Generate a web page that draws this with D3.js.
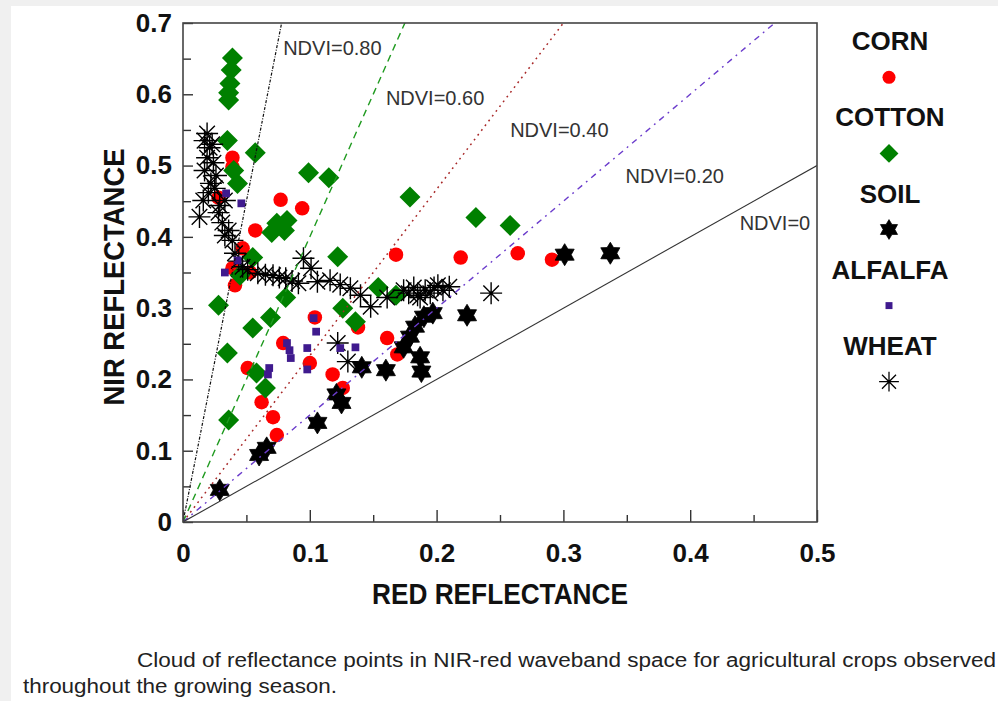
<!DOCTYPE html>
<html>
<head>
<meta charset="utf-8">
<script src="https://cdn.jsdelivr.net/npm/d3@7"></script>
<style>
  html, body { margin: 0; padding: 0; background: #fff; }
  svg { display: block; }
</style>
</head>
<body>
<svg id="chart" width="998" height="701"></svg>
<script>
// red / nir reflectance pairs
var cornPts = [[0.039,0.511],[0.039,0.498],[0.028,0.455],[0.077,0.452],[0.094,0.440],[0.057,0.409],
  [0.039,0.356],[0.041,0.332],[0.053,0.350],[0.047,0.384],[0.168,0.375],[0.219,0.371],[0.264,0.377],
  [0.291,0.368],[0.104,0.287],[0.138,0.273],[0.161,0.258],[0.169,0.235],[0.079,0.251],[0.051,0.216],
  [0.100,0.223],[0.118,0.207],[0.126,0.188],[0.062,0.168],[0.071,0.147],[0.074,0.122]];

var cottonPts = [[0.039,0.651],[0.038,0.634],[0.037,0.615],[0.036,0.602],[0.036,0.592],[0.035,0.535],
  [0.057,0.518],[0.099,0.490],[0.115,0.483],[0.179,0.456],[0.231,0.427],[0.258,0.416],[0.043,0.475],
  [0.040,0.493],[0.074,0.419],[0.070,0.406],[0.082,0.423],[0.080,0.409],[0.122,0.372],[0.055,0.371],
  [0.045,0.346],[0.081,0.315],[0.028,0.304],[0.055,0.272],[0.069,0.287],[0.035,0.237],[0.058,0.209],
  [0.065,0.188],[0.036,0.143],[0.154,0.329],[0.168,0.318],[0.126,0.300],[0.136,0.281]];

var soilPts = [[0.029,0.045],[0.060,0.094],[0.066,0.104],[0.106,0.139],[0.121,0.179],[0.125,0.167],
  [0.141,0.217],[0.160,0.213],[0.174,0.245],[0.179,0.260],[0.183,0.274],[0.190,0.288],[0.197,0.293],
  [0.187,0.231],[0.188,0.211],[0.224,0.290],[0.301,0.375],[0.337,0.377]];

var alfalfaPts = [[0.034,0.461],[0.046,0.447],[0.033,0.350],[0.043,0.367],[0.103,0.286],[0.105,0.267],
  [0.082,0.251],[0.084,0.241],[0.085,0.230],[0.098,0.244],[0.098,0.214],[0.068,0.216],[0.067,0.207],
  [0.124,0.244],[0.136,0.245]];

var wheatPts = [[0.019,0.545],[0.017,0.535],[0.021,0.525],[0.019,0.511],[0.024,0.504],[0.017,0.493],
  [0.026,0.486],[0.022,0.475],[0.016,0.451],[0.013,0.428],[0.029,0.444],[0.028,0.434],[0.033,0.451],
  [0.036,0.409],[0.039,0.395],[0.041,0.377],[0.047,0.358],[0.059,0.349],[0.071,0.346],[0.081,0.342],
  [0.095,0.370],[0.101,0.356],[0.091,0.335],[0.116,0.339],[0.132,0.328],[0.148,0.302],[0.161,0.315],
  [0.174,0.325],[0.182,0.329],[0.191,0.325],[0.198,0.329],[0.205,0.325],[0.187,0.315],[0.243,0.321],
  [0.122,0.251],[0.130,0.225],[0.023,0.530],[0.025,0.468],[0.020,0.462],[0.031,0.420],[0.033,0.402],
  [0.044,0.366],[0.051,0.354],[0.065,0.347],[0.076,0.343],[0.086,0.338],[0.106,0.337],[0.124,0.333],
  [0.140,0.318],[0.178,0.321],[0.185,0.318],[0.195,0.321],[0.201,0.332],[0.210,0.330]];

var ndviValues = [0.8, 0.6, 0.4, 0.2, 0];
var ndviLabels = ["NDVI=0.80", "NDVI=0.60", "NDVI=0.40", "NDVI=0.20", "NDVI=0"];
var redTicks = [0, 0.1, 0.2, 0.3, 0.4, 0.5];
var nirTicks = [0, 0.1, 0.2, 0.3, 0.4, 0.5, 0.6, 0.7];
var legendNames = ["CORN", "COTTON", "SOIL", "ALFALFA", "WHEAT"];

var FONT = "'Liberation Sans', Arial, Helvetica, sans-serif";
var plotLeft = 183, plotRight = 817, plotTop = 23, plotBottom = 522;

var svg = d3.select("#chart");

// grey page edge
svg.append("rect").attr("x", 0).attr("y", 0).attr("width", 998).attr("height", 6).attr("fill", "#f0f0f0");
svg.append("rect").attr("x", 0).attr("y", 0).attr("width", 11).attr("height", 701).attr("fill", "#f0f0f0");

var x = d3.scaleLinear().domain([0, 0.5]).range([plotLeft, plotRight]);
var y = d3.scaleLinear().domain([0, 0.7]).range([plotBottom, plotTop]);
var fmt = function(d){ return d === 0 ? "0" : d3.format(".1f")(d); };

svg.append("clipPath").attr("id", "plot-clip")
  .append("rect").attr("x", plotLeft).attr("y", plotTop)
  .attr("width", plotRight - plotLeft).attr("height", plotBottom - plotTop);

// symbols
function diamond(h){ return "M0," + (-h) + "L" + h + ",0L0," + h + "L" + (-h) + ",0Z"; }
function hexagram(ro, ri){
  var p = [];
  for (var i = 0; i < 12; i++){
    var a = -Math.PI / 2 + i * Math.PI / 6, r = i % 2 ? ri : ro;
    p.push((r * Math.cos(a)).toFixed(2) + "," + (r * Math.sin(a)).toFixed(2));
  }
  return "M" + p.join("L") + "Z";
}
function asterisk(r){
  var s = "";
  for (var i = 0; i < 4; i++){
    var a = i * Math.PI / 4, dx = r * Math.cos(a), dy = r * Math.sin(a);
    s += "M" + (-dx).toFixed(2) + "," + (-dy).toFixed(2) + "L" + dx.toFixed(2) + "," + dy.toFixed(2);
  }
  return s;
}

var series = [
  {name: "CORN", pts: cornPts, d: d3.symbol().type(d3.symbolCircle).size(165)(), fill: "#ff0000", stroke: "none", w: 0},
  {name: "COTTON", pts: cottonPts, d: diamond(10.5), fill: "#008000", stroke: "none", w: 0},
  {name: "SOIL", pts: soilPts, d: hexagram(11, 6.5), fill: "#000", stroke: "#000", w: 0.8},
  {name: "ALFALFA", pts: alfalfaPts, d: d3.symbol().type(d3.symbolSquare).size(60)(), fill: "#3f1a8e", stroke: "none", w: 0},
  {name: "WHEAT", pts: wheatPts, d: asterisk(11), fill: "none", stroke: "#000", w: 1.4}
];
var drawOrder = ["CORN", "COTTON", "SOIL", "WHEAT", "ALFALFA"];

var marks = svg.append("g").attr("clip-path", "url(#plot-clip)");
drawOrder.forEach(function(n){
  var s = series.find(function(t){ return t.name === n; });
  marks.append("g").selectAll("path").data(s.pts).enter().append("path")
    .attr("d", s.d)
    .attr("transform", function(d){ return "translate(" + x(d[0]) + "," + y(d[1]) + ")"; })
    .attr("fill", s.fill)
    .attr("stroke", s.stroke)
    .attr("stroke-width", s.w);
});

// NDVI iso-lines: nir = red * (1+n)/(1-n)
var lineStyle = [
  {color: "#111", dash: "3,1.5,1,1.5", w: 1.2},
  {color: "#1f9a1f", dash: "7,5", w: 1.4},
  {color: "#a82828", dash: "1.8,4.2", w: 1.5},
  {color: "#6b3ccc", dash: "6,5,1.8,5", w: 1.4},
  {color: "#333", dash: null, w: 1.1}
];
var lines = svg.append("g").attr("clip-path", "url(#plot-clip)");
ndviValues.forEach(function(n, i){
  var k = (1 + n) / (1 - n);
  lines.append("line")
    .attr("x1", x(0)).attr("y1", y(0))
    .attr("x2", x(0.5)).attr("y2", y(0.5 * k))
    .attr("stroke", lineStyle[i].color)
    .attr("stroke-width", lineStyle[i].w)
    .attr("stroke-dasharray", lineStyle[i].dash);
});

var labelAt = [[0.079, 0.655], [0.160, 0.585], [0.258, 0.540], [0.349, 0.476], [0.439, 0.409]];
svg.append("g").selectAll("text").data(ndviLabels).enter().append("text")
  .attr("x", function(d, i){ return x(labelAt[i][0]); })
  .attr("y", function(d, i){ return y(labelAt[i][1]); })
  .attr("font-family", FONT).attr("font-size", 20).attr("fill", "#333")
  .text(function(d){ return d; });

// axes, ticks point inward
svg.append("g").attr("transform", "translate(0," + plotBottom + ")")
  .call(d3.axisBottom(x).tickValues(redTicks).tickFormat(fmt).tickSize(-12).tickPadding(22));
svg.append("g").attr("transform", "translate(0," + plotBottom + ")")
  .call(d3.axisBottom(x).tickValues([0.05, 0.15, 0.25, 0.35, 0.45]).tickFormat("").tickSize(-7));
svg.append("g").attr("transform", "translate(" + plotLeft + ",0)")
  .call(d3.axisLeft(y).tickValues(nirTicks).tickFormat(fmt).tickSize(-10).tickPadding(11));
svg.append("g").attr("transform", "translate(" + plotLeft + ",0)")
  .call(d3.axisLeft(y).tickValues([0.05, 0.15, 0.25, 0.35, 0.45, 0.55, 0.65]).tickFormat("").tickSize(-8));

svg.selectAll(".domain").remove();
svg.selectAll(".tick line").attr("stroke", "#333").attr("stroke-width", 1.4);
svg.selectAll(".tick text").attr("font-family", FONT).attr("font-size", 26)
  .attr("font-weight", "bold").attr("fill", "#111");

svg.append("rect").attr("x", plotLeft).attr("y", plotTop)
  .attr("width", plotRight - plotLeft).attr("height", plotBottom - plotTop)
  .attr("fill", "none").attr("stroke", "#444").attr("stroke-width", 1.6);

// axis titles
svg.append("text").attr("x", 500).attr("y", 604).attr("text-anchor", "middle")
  .attr("font-family", FONT).attr("font-size", 29).attr("font-weight", "bold").attr("fill", "#111")
  .attr("textLength", 256).attr("lengthAdjust", "spacingAndGlyphs")
  .text("RED REFLECTANCE");
svg.append("text").attr("transform", "translate(124,277) rotate(-90)").attr("text-anchor", "middle")
  .attr("font-family", FONT).attr("font-size", 29).attr("font-weight", "bold").attr("fill", "#111")
  .attr("textLength", 257).attr("lengthAdjust", "spacingAndGlyphs")
  .text("NIR REFLECTANCE");

// legend
var legend = svg.append("g");
legendNames.forEach(function(n, i){
  var s = series.find(function(t){ return t.name === n; });
  legend.append("text").attr("x", 890).attr("y", 50 + i * 76.3).attr("text-anchor", "middle")
    .attr("font-family", FONT).attr("font-size", 26).attr("font-weight", "bold").attr("fill", "#111")
    .text(n);
  legend.append("path").attr("d", s.d)
    .attr("transform", "translate(889," + (77.3 + i * 76.1) + ") scale(0.9)")
    .attr("fill", s.fill).attr("stroke", s.stroke).attr("stroke-width", s.w);
});

// caption
svg.append("text").attr("x", 137).attr("y", 667)
  .attr("font-family", FONT).attr("font-size", 20).attr("fill", "#222")
  .attr("textLength", 859).attr("lengthAdjust", "spacingAndGlyphs")
  .text("Cloud of reflectance points in NIR-red waveband space for agricultural crops observed");
svg.append("text").attr("x", 23).attr("y", 693)
  .attr("font-family", FONT).attr("font-size", 20).attr("fill", "#222")
  .attr("textLength", 314).attr("lengthAdjust", "spacingAndGlyphs")
  .text("throughout the growing season.");
</script>
</body>
</html>
